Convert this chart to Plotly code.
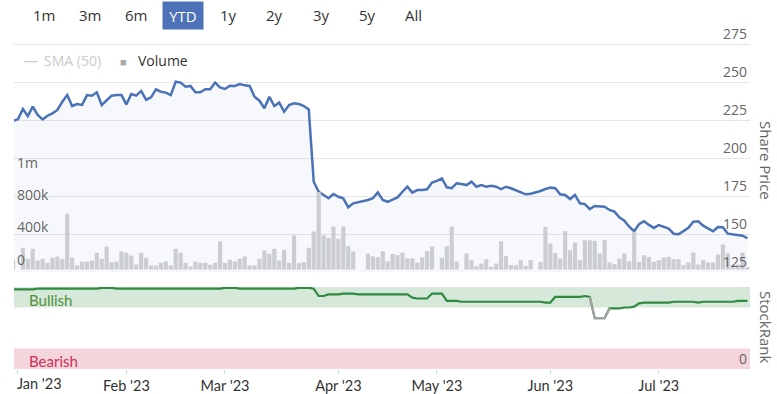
import plotly.graph_objects as go
import pandas as pd

# ---------------- data ----------------
dates = ["2022-12-30"] + [d.strftime("%Y-%m-%d") for d in pd.bdate_range("2023-01-02", "2023-07-27")]

price = [
    224.5, 225.5, 232.2, 227.6, 233.8, 228.3, 225.4, 227.8, 229.4, 231.6,
    237.0, 241.4, 234.2, 235.5, 234.9, 241.4, 241.0, 243.2, 234.9, 237.7,
    241.0, 241.4, 241.4, 235.3, 242.1, 241.0, 244.1, 238.2, 239.9, 245.2,
    243.6, 243.0, 241.4, 250.2, 249.6, 246.9, 247.4, 243.2, 243.2, 245.2,
    245.2, 249.6, 246.5, 245.4, 247.6, 247.4, 248.7, 247.8, 247.4, 240.3,
    237.7, 232.7, 240.3, 234.2, 236.4, 230.5, 234.9, 236.0, 235.5, 234.2,
    232.0, 184.4, 177.8, 175.7, 173.5, 176.3, 174.5, 173.5, 167.6, 170.2,
    170.9, 171.5, 172.4, 173.5, 177.4, 172.4, 171.2, 172.6, 174.1, 177.8,
    181.1, 177.2, 178.9, 178.9, 179.4, 183.8, 184.9, 186.6, 180.7, 180.1,
    183.4, 182.9, 182.2, 184.4, 181.1, 182.2, 181.1, 181.8, 181.1, 179.6,
    181.1, 180.1, 178.9, 177.4, 176.1, 176.5, 177.2, 178.3, 179.6, 180.5,
    180.1, 176.1, 175.7, 173.0, 175.7, 170.2, 169.7, 166.4, 168.4, 168.4,
    168.0, 165.8, 164.7, 161.0, 158.8, 154.8, 151.8, 156.5, 158.4, 156.0,
    154.0, 155.9, 154.8, 153.5, 150.2, 149.8, 151.9, 154.1, 158.1, 158.4,
    155.5, 153.5, 151.8, 154.6, 154.5, 150.2, 149.6, 149.3, 148.9, 147.2,
]

volume = [
    120000, None, 269000, 132000, 256000, 111000, 132000, 83000, 145000, 161000,
    132000, 690000, 145000, 50000, 99000, 99000, 111000, 207000, 132000, 285000,
    90000, 99000, 223000, 207000, 173000, 62000, 207000, 145000, 50000, 50000,
    83000, 99000, 50000, 256000, 207000, 83000, 37000, 99000, 83000, 83000,
    58000, 83000, 347000, 83000, 120000, 99000, 132000, 161000, 50000, 50000,
    132000, 235000, 194000, 256000, 111000, 244000, 83000, 421000, 78000, 90000,
    269000, 470000, 960000, 421000, 392000, 532000, 380000, 532000, 288000, 223000,
    None, None, 194000, 163000, 152000, 225000, 99000, 192000, 180000, 208000,
    138000, 138000, 85000, 150000, 227000, 285000, None, 145000, 285000, 532000,
    99000, None, 198000, 115000, 40000, 74000, 128000, 35000, 74000, 350000,
    165000, 53000, 53000, 115000, 46000, 115000, None, 95000, 528000, 322000,
    206000, 136000, 475000, 239000, 334000, 115000, 363000, 363000, 355000, 198000,
    363000, 87000, 66000, 136000, 198000, 103000, 466000, 95000, 177000, 157000,
    95000, 115000, 149000, 157000, 128000, 128000, 54000, 87000, 210000, 62000,
    115000, 87000, 87000, 186000, 310000, 200000, 60000, 60000, 207000, 30000,
]

stock_rank = [
    97, 97, 97, 97, 97, 98, 98, 98, 98, 98,
    98, 98, 98, 98, 98, 98, 98, 98, 99, 99,
    99, 98, 98, 98, 98, 98, 98, 98, 98, 98,
    98, 98, 98, 98, 98, 98, 98, 98, 98, 98,
    98, 98, 98, 99, 99, 99, 98, 98, 98, 98,
    98, 98, 98, 98, 98, 98, 98, 98, 99, 99,
    99, 98, 89, 89, 91, 91, 91, 92, 92, 92,
    91, 91, 91, 91, 91, 91, 91, 91, 91, 91,
    91, 87, 86, 86, 86, 92, 92, 92, 83, 83,
    83, 82, 82, 82, 82, 82, 82, 82, 82, 82,
    82, 82, 82, 82, 82, 82, 82, 82, 81, 81,
    88, 88, 88, 88, 88, 88, 89, 88, 62, 62,
    62, 74, 74, 74, 75, 75, 76, 80, 81, 81,
    81, 81, 81, 81, 82, 82, 82, 82, 82, 81,
    82, 82, 82, 82, 82, 82, 82, 83, 83, 83,
]

month_ticks = ["2023-01-02", "2023-02-01", "2023-03-01", "2023-04-03",
               "2023-05-01", "2023-06-01", "2023-07-03"]
month_labels = ["Jan '23", "Feb '23", "Mar '23", "Apr '23", "May '23", "Jun '23", "Jul '23"]

price_ticks = [125, 150, 175, 200, 225, 250, 275]
volume_ticks = [0, 400000, 800000, 1200000]
volume_labels = ["0", "400k", "800k", "1m"]

range_buttons = ["1m", "3m", "6m", "YTD", "1y", "2y", "3y", "5y", "All"]
selected_button = "YTD"

neutral_threshold = 70

# ---------------- figure ----------------
LINE = "#4a72b7"
GREEN = "#2e8a3f"
GRAY_LINE = "#a3a3a3"

# plot area in pixels: x 14..750, y 20..369
L, R, T, B = 14, 750, 20, 369
W, H = R - L, B - T


def px(x):
    return (x - L) / W


def py(y):
    return (B - y) / H


fig = go.Figure()

# baseline for the price area fill (bottom of the price scale)
fig.add_trace(go.Scatter(
    x=dates, y=[price_ticks[0]] * len(dates), mode="lines",
    line=dict(width=0, color="rgba(0,0,0,0)"), hoverinfo="skip",
    xaxis="x", yaxis="y", name="base"))

fig.add_trace(go.Scatter(
    x=dates, y=price, mode="lines", line=dict(color=LINE, width=2.5),
    fill="tonexty", fillcolor="rgba(74,114,183,0.05)",
    xaxis="x", yaxis="y", hoverinfo="x+y", name="Share Price"))

fig.add_trace(go.Bar(
    x=dates, y=volume, marker=dict(color="#cbcdd2", line=dict(width=0)),
    xaxis="x", yaxis="y2", name="Volume"))

n = len(stock_rank)
gray_rank = []
for i, r in enumerate(stock_rank):
    near_low = r < neutral_threshold or (i > 0 and stock_rank[i - 1] < neutral_threshold) \
        or (i < n - 1 and stock_rank[i + 1] < neutral_threshold)
    gray_rank.append(r if near_low else None)

fig.add_trace(go.Scatter(
    x=dates, y=stock_rank, mode="lines", line=dict(color=GREEN, width=2.2),
    xaxis="x2", yaxis="y3", name="StockRank"))
fig.add_trace(go.Scatter(
    x=dates, y=gray_rank, mode="lines", line=dict(color=GRAY_LINE, width=2.2),
    connectgaps=False, xaxis="x2", yaxis="y3", name="StockRank neutral"))

price_px_per_unit = 38 / 25          # 25 price units per 38 px
price_top = price_ticks[0] + (272 - T) / price_px_per_unit
vol_per_px = 400000 / 32.3
vol_bottom = -(272 - 269.5) * vol_per_px
vol_top = vol_bottom + (272 - T) * vol_per_px

fig.update_layout(
    width=777, height=394,
    margin=dict(l=L, r=777 - R, t=T, b=394 - B, pad=0, autoexpand=False),
    plot_bgcolor="white", paper_bgcolor="white",
    showlegend=False, bargap=0.15,
    font=dict(family="Open Sans", size=14, color="#666"),
    xaxis=dict(type="category", categoryorder="array", categoryarray=dates,
               domain=[0, 1], anchor="y", range=[0.2, 149.5], automargin=False,
               showticklabels=False, showgrid=False, ticks="", zeroline=False),
    xaxis2=dict(type="category", categoryorder="array", categoryarray=dates,
                domain=[0, 1], anchor="y3", matches="x", automargin=False,
                tickmode="array", tickvals=month_ticks,
                ticktext=[""] + month_labels[1:],
                ticks="outside", ticklen=4, tickcolor="#ccd6eb",
                tickfont=dict(family="Lato", size=14.5, color="#333"),
                showgrid=False, zeroline=False, showline=False),
    yaxis=dict(domain=[py(272), 1], side="right", range=[price_ticks[0], price_top],
               tickmode="array", tickvals=price_ticks, automargin=False,
               gridcolor="#e6e6e6", gridwidth=1,
               ticklabelposition="inside top",
               tickfont=dict(size=14, color="#666"),
               zeroline=False, showline=False),
    yaxis2=dict(overlaying="y", side="left", range=[vol_bottom, vol_top], automargin=False,
                tickmode="array", tickvals=volume_ticks, ticktext=volume_labels,
                ticklabelposition="inside top",
                tickfont=dict(size=14, color="#666"),
                showgrid=False, zeroline=False, showline=False),
    yaxis3=dict(domain=[0, py(287)], side="right", range=[0, 100], anchor="x2",
                tickmode="array", tickvals=[0], ticktext=["0"], automargin=False,
                ticklabelposition="inside top",
                tickfont=dict(size=14, color="#666"),
                showgrid=False, zeroline=False, showline=False),
)

# StockRank bands
fig.add_shape(type="rect", xref="x2 domain", yref="y3", x0=0, x1=1, y0=75, y1=100,
              fillcolor="#d5e8da", line=dict(width=0), layer="below")
fig.add_shape(type="rect", xref="x2 domain", yref="y3", x0=0, x1=1, y0=0, y1=25,
              fillcolor="#f5d5dc", line=dict(width=0), layer="below")

ann = []
# Range selector buttons
btn_centers = [44, 90, 136, 183, 228, 274, 321, 367, 413]
for label, cx in zip(range_buttons, btn_centers):
    sel = label == selected_button
    ann.append(dict(
        x=px(cx), y=py(15), xref="paper", yref="paper", text=label, showarrow=False,
        xanchor="center", yanchor="middle",
        font=dict(family="Open Sans", size=15, color="white" if sel else "#333"),
        bgcolor="#4e72b8" if sel else None, width=40 if sel else None,
        height=27 if sel else None, borderpad=0))

# Legend
ann += [
    dict(x=px(22), y=py(61), xref="paper", yref="paper", text="—", showarrow=False,
         xanchor="left", yanchor="middle", font=dict(size=14, color="#cccccc")),
    dict(x=px(42), y=py(60), xref="paper", yref="paper", text="SMA (50)", showarrow=False,
         xanchor="left", yanchor="middle", font=dict(size=14, color="#cccccc")),
    dict(x=px(118), y=py(62), xref="paper", yref="paper", text="■", showarrow=False,
         xanchor="left", yanchor="middle", font=dict(size=11, color="#aaaaaa")),
    dict(x=px(136), y=py(60), xref="paper", yref="paper", text="Volume", showarrow=False,
         xanchor="left", yanchor="middle", font=dict(size=14, color="#333")),
]

# Axis titles
ann += [
    dict(x=px(766), y=py(160), xref="paper", yref="paper", text="Share Price", showarrow=False,
         textangle=90, xanchor="center", yanchor="middle", font=dict(size=15, color="#666")),
    dict(x=px(766), y=py(327), xref="paper", yref="paper", text="StockRank", showarrow=False,
         textangle=90, xanchor="center", yanchor="middle", font=dict(size=15, color="#666")),
]

# Band labels
ann += [
    dict(x=px(27), y=84, xref="paper", yref="y3", text="Bullish", showarrow=False,
         xanchor="left", yanchor="middle", font=dict(family="Lato", size=15, color="#4f8f3a")),
    dict(x=px(27), y=10, xref="paper", yref="y3", text="Bearish", showarrow=False,
         xanchor="left", yanchor="middle", font=dict(family="Lato", size=15, color="#d02f57")),
]

# First month label (left-aligned at the plot edge)
ann.append(dict(x=px(15), y=py(384), xref="paper", yref="paper", text=month_labels[0],
                showarrow=False, xanchor="left", yanchor="middle",
                font=dict(family="Lato", size=14.5, color="#333")))

fig.update_layout(annotations=ann)

fig.write_html("out.html", config={"displayModeBar": False},
               post_script="document.body.style.margin='0px';")
